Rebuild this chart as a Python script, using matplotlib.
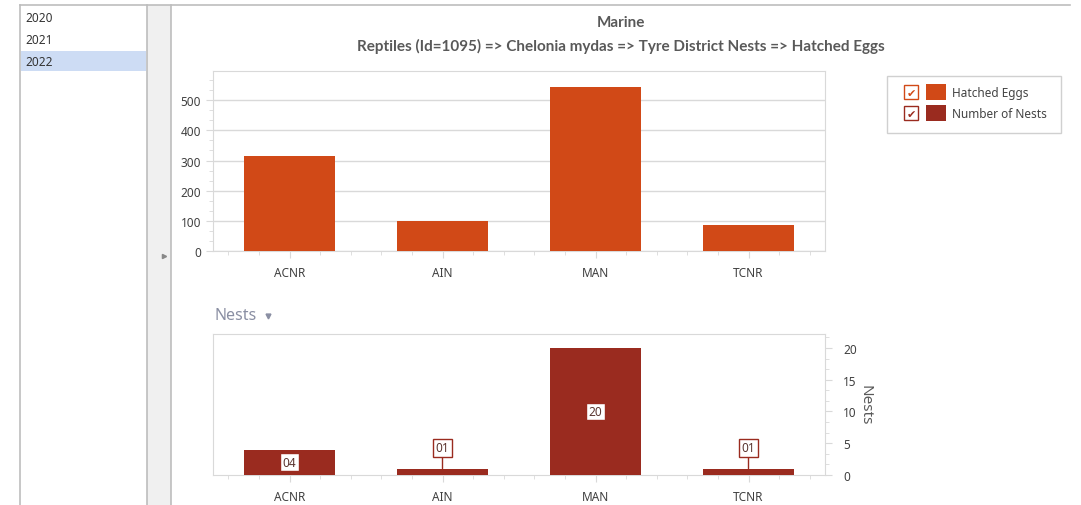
import matplotlib.pyplot as plt
from matplotlib.patches import Rectangle
from matplotlib.ticker import AutoMinorLocator, MultipleLocator

# data
sites = ['ACNR', 'AIN', 'MAN', 'TCNR']
hatched_eggs = [315, 99, 543, 86]
nests = [4, 1, 20, 1]
years = ['2020', '2021', '2022']

egg_color = '#d14917'
nest_color = '#9a2b1f'
grid_color = '#d9d9d9'
text_color = '#595959'

W, H = 1081, 506
plt.rcParams['font.family'] = ['Noto Sans', 'DejaVu Sans']
fig = plt.figure(figsize=(W / 100, H / 100), dpi=100)


def px_axes(x0, y0, x1, y1, **kw):
    # pixel box (top-left origin) -> figure axes
    return fig.add_axes([x0 / W, 1 - y1 / H, (x1 - x0) / W, (y1 - y0) / H], **kw)


# background frame: list panel + splitter
bg = px_axes(0, 0, W, H)
bg.set_xlim(0, W)
bg.set_ylim(H, 0)
bg.axis('off')
bg.add_patch(Rectangle((147, 6), 24, H, facecolor='#f0f0f0', edgecolor='none'))
bg.plot([20, 1070], [6, 6], color='#bdbdbd', lw=1.2)
for x in (20, 147, 171):
    bg.plot([x, x], [6, H], color='#bdbdbd', lw=1.2)
bg.add_patch(Rectangle((21, 52), 125, 20, facecolor='#cddcf4', edgecolor='none'))
for i, y in enumerate(years):
    bg.text(25, 18 + i * 22, y, fontsize=8.5, color='#333333', va='center')
bg.plot([164], [257], marker='>', color='#888888', markersize=3)

# titles
bg.text(621, 23, 'Marine', fontsize=11, fontweight='bold', color=text_color,
        ha='center', va='center', family='Lato')
bg.text(621, 46, 'Reptiles (Id=1095) => Chelonia mydas => Tyre District Nests => Hatched Eggs',
        fontsize=11, fontweight='bold', color=text_color, ha='center', va='center', family='Lato')

# legend
bg.add_patch(Rectangle((887, 77), 174, 57, facecolor='white', edgecolor='#d0d0d0', lw=1))
for i, (lab, col) in enumerate([('Hatched Eggs', egg_color), ('Number of Nests', nest_color)]):
    yc = 93 + i * 21
    bg.add_patch(Rectangle((904, yc - 7), 14, 14, facecolor='white', edgecolor=col, lw=1))
    bg.text(911, yc + 0.5, '\u2714', fontsize=8, color=col, ha='center', va='center', family='DejaVu Sans')
    bg.add_patch(Rectangle((926, yc - 8), 20, 16, facecolor=col, edgecolor='none'))
    bg.text(952, yc, lab, fontsize=8.5, color='#444444', va='center')

bg.text(215, 316, 'Nests', fontsize=11.5, color='#8a8fa3', va='center')
bg.plot([268], [317], marker='v', color='#8a8fa3', markersize=3.5)


def style_x(ax):
    ax.set_xlim(-0.5, 3.5)
    ax.set_xticks(range(len(sites)))
    ax.set_xticklabels(sites)
    ax.xaxis.set_minor_locator(MultipleLocator(0.2))
    ax.tick_params(axis='x', which='major', length=5, color=grid_color, labelsize=8.5,
                   labelcolor='#404040', pad=6)
    ax.tick_params(axis='x', which='minor', length=3, color=grid_color)
    for s in ax.spines.values():
        s.set_color(grid_color)


# top chart: hatched eggs
ax1 = px_axes(213, 72, 825, 252)
ax1.bar(range(len(sites)), hatched_eggs, width=0.6, color=egg_color, zorder=3)
style_x(ax1)
ax1.set_ylim(0, 597)
ax1.set_yticks(range(0, 501, 100))
ax1.yaxis.set_minor_locator(AutoMinorLocator(3))
ax1.tick_params(axis='y', which='major', length=5, color=grid_color, labelsize=8.5,
                labelcolor='#404040')
ax1.tick_params(axis='y', which='minor', length=3, color=grid_color)
ax1.grid(axis='y', color=grid_color, lw=1, zorder=0)

# bottom chart: nests
ax2 = px_axes(213, 335, 825, 476)
ax2.bar(range(len(sites)), nests, width=0.6, color=nest_color, zorder=3)
style_x(ax2)
ax2.set_ylim(0, 22.2)
ax2.yaxis.tick_right()
ax2.yaxis.set_label_position('right')
ax2.set_yticks(range(0, 21, 5))
ax2.yaxis.set_minor_locator(AutoMinorLocator(3))
ax2.tick_params(axis='y', which='major', length=5, color=grid_color, labelsize=8.5,
                labelcolor='#404040', pad=8)
ax2.tick_params(axis='y', which='minor', length=3, color=grid_color)
ax2.set_ylabel('Nests', rotation=-90, fontsize=11, color='#595959', labelpad=11)

box = dict(boxstyle='square,pad=0.2', facecolor='white', edgecolor=nest_color, lw=1)
for i, v in enumerate(nests):
    lab = f'{v:02d}'
    if v >= 3:
        ax2.text(i, v / 2, lab, ha='center', va='center', fontsize=8.5, color='#5a3530',
                 bbox=box, zorder=5)
    else:
        ax2.annotate(lab, (i, v), xytext=(0, 15), textcoords='offset points',
                     ha='center', va='center', fontsize=8.5, color='#5a3530', bbox=box,
                     arrowprops=dict(arrowstyle='-', color=nest_color, lw=1,
                                     shrinkA=0, shrinkB=0), zorder=5)

fig.savefig('out.png', dpi=100)
